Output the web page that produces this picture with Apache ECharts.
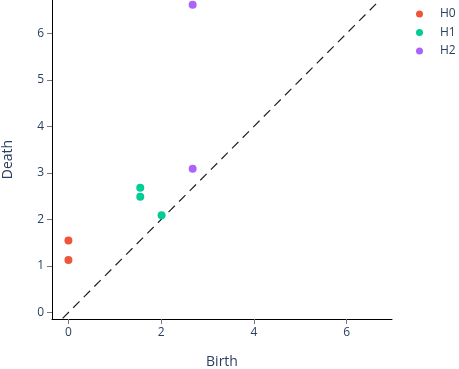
<!DOCTYPE html>
<html><head><meta charset="utf-8">
<script src="https://cdn.jsdelivr.net/npm/echarts@6/dist/echarts.min.js"></script>
<style>html,body{margin:0;padding:0;background:#fff}#c{width:459px;height:369px}</style>
</head><body><div id="c"></div>
<script>
const seriesNames = ['H0', 'H1', 'H2'];
const h0 = [[0, 1.13], [0, 1.55]];
const h1 = [[1.55, 2.68], [1.55, 2.49], [2.01, 2.09]];
const h2 = [[2.68, 6.62], [2.68, 3.09]];
const xTicks = [0, 2, 4, 6];
const yTicks = [0, 1, 2, 3, 4, 5, 6];
const colors = ['#EF553B', '#00CC96', '#AB63FA'];
const xMin = -0.354, xMax = 6.98, yMin = -0.14, yMax = 6.72;

const font = '"Open Sans", verdana, arial, sans-serif';
const txt = '#2a3f5f';
const chart = echarts.init(document.getElementById('c'));
const mk = (name, data, i) => ({
  name, type: 'scatter', data, symbolSize: 8,
  itemStyle: {color: colors[i], opacity: 1}, z: 3
});
chart.setOption({
  animation: false,
  backgroundColor: '#fff',
  textStyle: {fontFamily: font},
  grid: {left: 52, right: 67, top: 0, bottom: 50, containLabel: false, outerBoundsMode: 'none'},
  legend: {
    orient: 'vertical', left: 416, top: 8, itemGap: 6.5, padding: 0,
    icon: 'circle', itemWidth: 7, itemHeight: 7,
    textStyle: {color: txt, fontSize: 12, fontFamily: font, padding: [0, 0, 0, 12]},
    data: seriesNames
  },
  xAxis: {
    type: 'value', min: xMin, max: xMax,
    name: 'Birth', nameLocation: 'middle', nameGap: 36.5,
    nameTextStyle: {color: txt, fontSize: 14, fontFamily: font},
    axisLine: {show: true, onZero: false, lineStyle: {color: '#000', width: 1}},
    axisTick: {show: true, length: 5, lineStyle: {color: '#777'}, customValues: xTicks},
    axisLabel: {color: txt, fontSize: 12, margin: 8, customValues: xTicks, fontFamily: font},
    splitLine: {show: false}
  },
  yAxis: {
    type: 'value', min: yMin, max: yMax,
    name: 'Death', nameLocation: 'middle', nameGap: 37,
    nameTextStyle: {color: txt, fontSize: 14, fontFamily: font},
    axisLine: {show: true, onZero: false, lineStyle: {color: '#000', width: 1}},
    axisTick: {show: true, length: 5, lineStyle: {color: '#777'}, customValues: yTicks},
    axisLabel: {color: txt, fontSize: 12, margin: 8, customValues: yTicks, fontFamily: font},
    splitLine: {show: false}
  },
  series: [
    {
      type: 'line', data: [[xMin, xMin], [xMax, xMax]], symbol: 'none', clip: true,
      lineStyle: {color: '#222', width: 1.2, type: [9, 6]}, silent: true, z: 1
    },
    mk(seriesNames[0], h0, 0),
    mk(seriesNames[1], h1, 1),
    mk(seriesNames[2], h2, 2)
  ]
});
</script></body></html>
